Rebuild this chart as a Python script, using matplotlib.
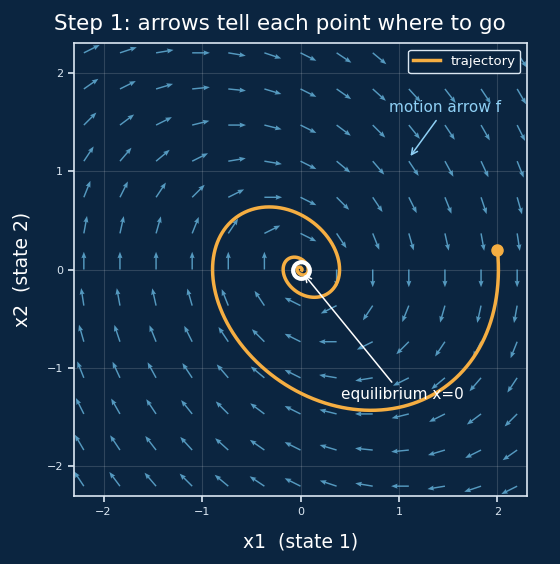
import numpy as np
import matplotlib.pyplot as plt

# damped oscillator: x1' = x2, x2' = -x1 - c*x2
damping = 0.5
x_start = [2.0, 0.2]
t_end = 20.0
n_steps = 4000
grid_lim = 2.2
grid_n = 13
ax_lim = 2.3
ticks = [-2, -1, 0, 1, 2]
tick_labels = ['\u22122', '\u22121', '0', '1', '2']

bg = '#0b2540'
orange = '#f5ae42'
arrow_blue = '#62aed6'
light = '#dbe7f2'


def f(x):
    return np.array([x[1], -x[0] - damping * x[1]])


def simulate(x0, t1, n):
    dt = t1 / n
    x = np.array(x0, dtype=float)
    out = [x.copy()]
    for _ in range(n):
        k1 = f(x)
        k2 = f(x + 0.5 * dt * k1)
        k3 = f(x + 0.5 * dt * k2)
        k4 = f(x + dt * k3)
        x = x + dt / 6 * (k1 + 2 * k2 + 2 * k3 + k4)
        out.append(x.copy())
    return np.array(out)


g = np.linspace(-grid_lim, grid_lim, grid_n)
X, Y = np.meshgrid(g, g)
U = Y
V = -X - damping * Y
mag = np.hypot(U, V)
mag[mag == 0] = np.nan
U = U / mag
V = V / mag

traj = simulate(x_start, t_end, n_steps)

fig = plt.figure(figsize=(5.6, 5.64), dpi=100, facecolor=bg)
ax = fig.add_axes([74 / 560, 1 - 496 / 564, 453 / 560, 453 / 564])
ax.set_facecolor(bg)

ax.grid(True, color='white', alpha=0.15, linewidth=0.8)
ax.set_axisbelow(True)

ax.quiver(X, Y, U, V, color=arrow_blue, alpha=0.85, angles='xy',
          scale_units='xy', scale=1 / 0.18, width=0.0032,
          headwidth=3.5, headlength=4.5, headaxislength=4)

ax.plot(traj[:, 0], traj[:, 1], color=orange, linewidth=2.5, label='trajectory')
ax.plot(x_start[0], x_start[1], 'o', color=orange, markersize=8)
ax.plot(0, 0, 'o', markerfacecolor='none', markeredgecolor='white',
        markersize=12, markeredgewidth=3)

ax.annotate('equilibrium x=0', xy=(0.02, -0.03), xytext=(1.03, -1.27),
            color='white', fontsize=11, ha='center', va='center',
            arrowprops=dict(arrowstyle='->', color='white', lw=1.1))
ax.annotate('motion arrow f', xy=(1.1, 1.13), xytext=(1.47, 1.64),
            color='#8fd0f5', fontsize=11, ha='center', va='center',
            arrowprops=dict(arrowstyle='->', color='#8fd0f5', lw=1.1))

ax.set_xlim(-ax_lim, ax_lim)
ax.set_ylim(-ax_lim, ax_lim)
ax.set_xticks(ticks)
ax.set_yticks(ticks)
ax.set_xticklabels(tick_labels)
ax.set_yticklabels(tick_labels)
ax.tick_params(colors=light, labelsize=8, length=4.5, width=1.2)
for s in ax.spines.values():
    s.set_color(light)
    s.set_linewidth(1.2)

ax.set_xlabel('x1  (state 1)', color='white', fontsize=13.5, labelpad=11)
ax.set_ylabel('x2  (state 2)', color='white', fontsize=13.5, labelpad=11)
fig.text(0.5, 1 - 24 / 564, 'Step 1: arrows tell each point where to go',
         color='white', fontsize=15.5, ha='center', va='center')

leg = ax.legend(loc='upper right', fontsize=9.5, facecolor=bg, edgecolor=light,
                framealpha=1)
for t in leg.get_texts():
    t.set_color('white')

fig.savefig('out.png', dpi=100, facecolor=bg)
